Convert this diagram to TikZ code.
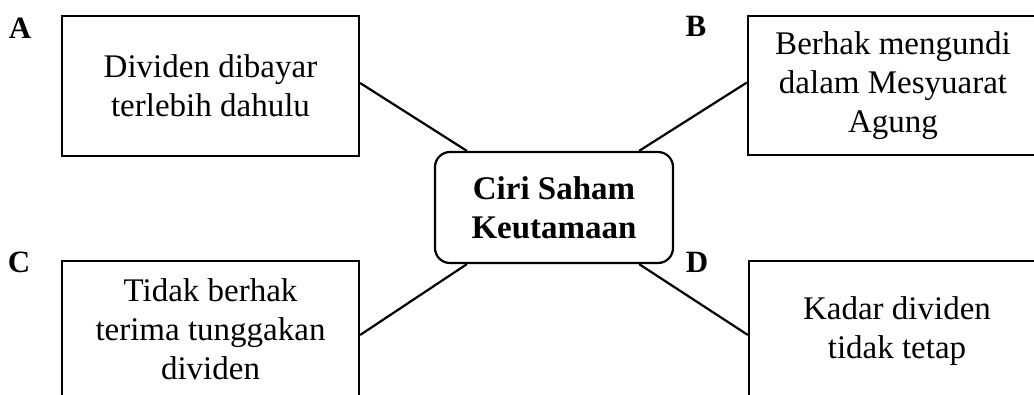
\documentclass[tikz,border=0pt]{standalone}
\usepackage{fontspec}
\setmainfont{Liberation Serif}
\begin{document}
\begin{tikzpicture}[x=1pt,y=-1pt,
  every node/.style={inner sep=0pt},
  box/.style={draw,line width=2.2pt,align=center,font=\fontsize{33}{39}\selectfont},
  hub/.style={box,rounded corners=15pt,font=\fontsize{33}{39}\selectfont\bfseries},
  lbl/.style={font=\fontsize{31}{33}\selectfont\bfseries},
  conn/.style={line width=2.2pt}]
\clip (0,0) rectangle (1034,394);
\fill[white] (0,0) rectangle (1034,394);
\node[box,minimum width=297pt,minimum height=140pt] (A) at (210.5,86) {Dividen dibayar\\terlebih dahulu};
\node[box,minimum width=290pt,minimum height=139pt] (B) at (893,85.5) {Berhak mengundi\\dalam Mesyuarat\\Agung};
\node[box,minimum width=297pt,minimum height=136pt] (C) at (210.5,329) {Tidak berhak\\terima tunggakan\\dividen};
\node[box,minimum width=296pt,minimum height=140pt] (D) at (897,331) {Kadar dividen\\tidak tetap};
\node[hub,minimum width=238pt,minimum height=111pt] (M) at (554,207.5) {Ciri Saham\\Keutamaan};
\node[lbl] (la) at (20,28) {A};
\node[lbl] (lb) at (696,26) {B};
\node[lbl] (lc) at (19,262) {C};
\node[lbl] (ld) at (697,262) {D};
\draw[conn] ([yshift=3pt]A.east) -- ([xshift=33pt]M.north west);
\draw[conn] ([yshift=3pt]B.west) -- ([xshift=-35pt]M.north east);
\draw[conn] ([yshift=-6pt]C.east) -- ([xshift=33pt]M.south west);
\draw[conn] ([yshift=-4pt]D.west) -- ([xshift=-35pt]M.south east);
\end{tikzpicture}
\end{document}
